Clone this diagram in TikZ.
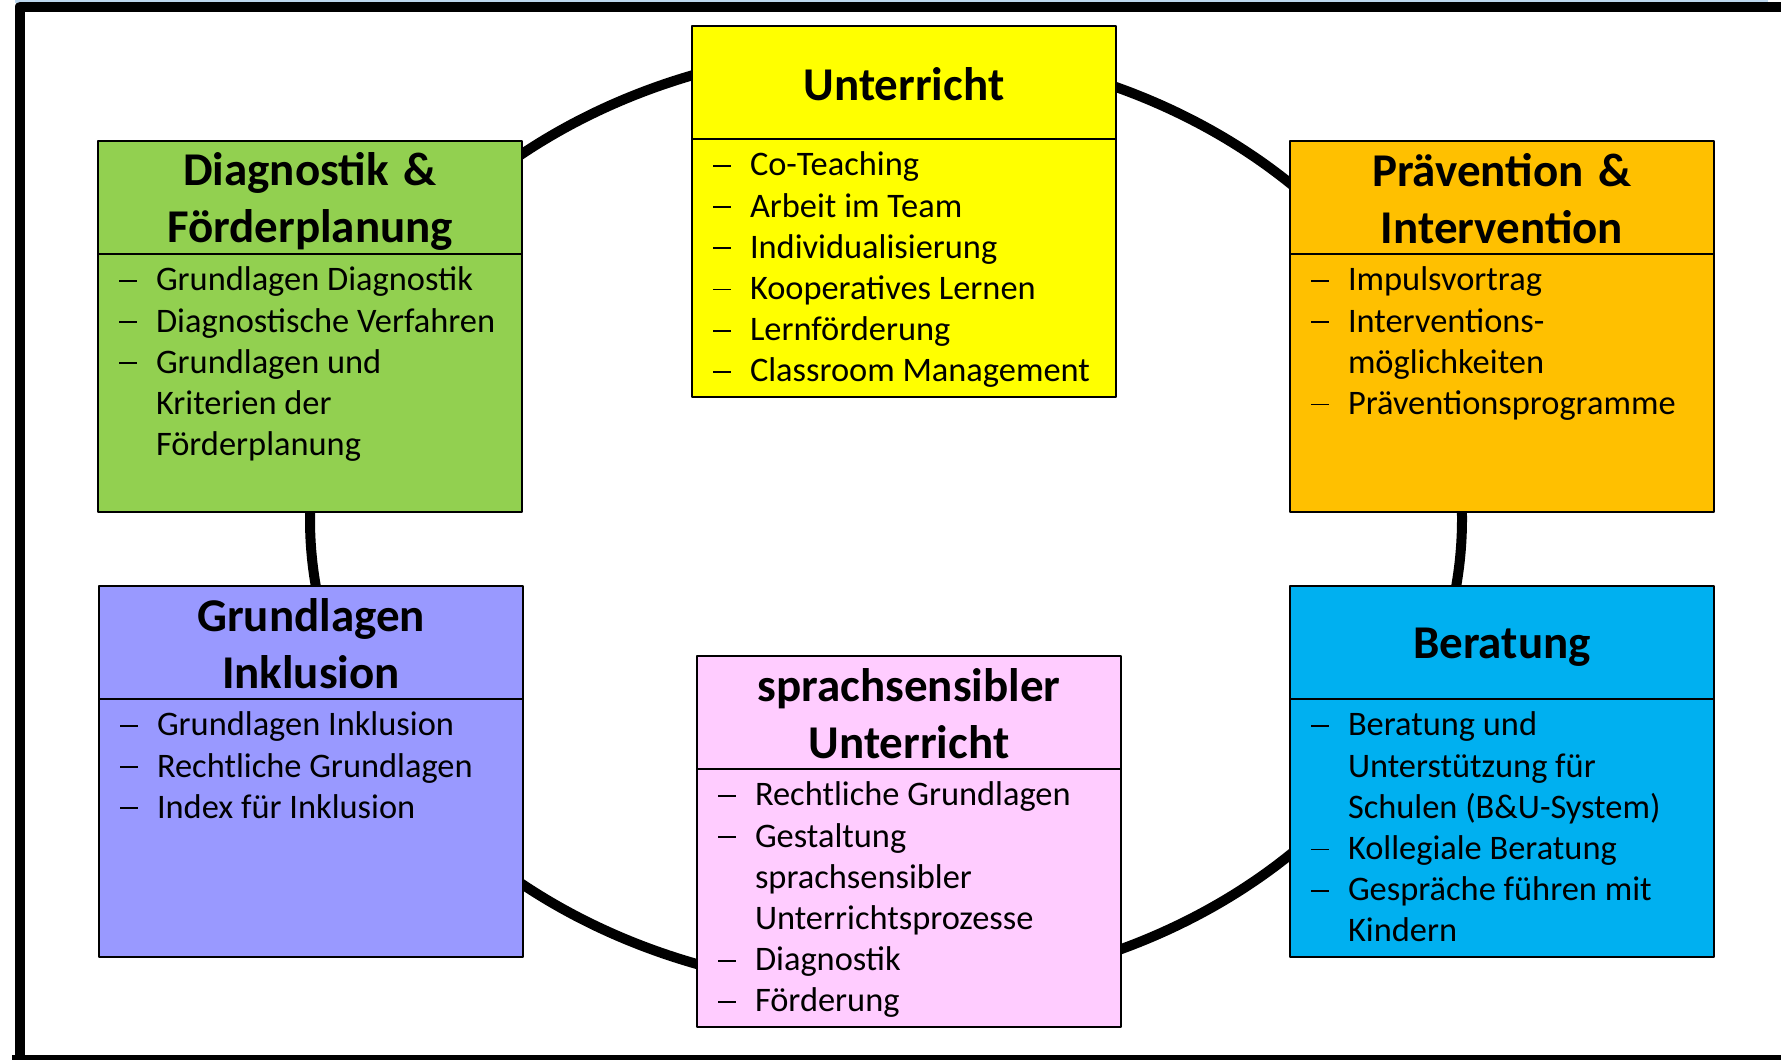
\documentclass[tikz,border=0pt]{standalone}
\usepackage{fontspec}
\setmainfont{Carlito}
\usetikzlibrary{positioning}
\definecolor{gelb}{HTML}{FFFF00}
\definecolor{gruen}{HTML}{92D050}
\definecolor{orange}{HTML}{FFC000}
\definecolor{lila}{HTML}{9999FF}
\definecolor{blau}{HTML}{00B0F0}
\definecolor{rosa}{HTML}{FFCCFF}
\definecolor{rahmenblau}{HTML}{BDD7EE}
\newcommand{\titelfont}{\fontsize{47}{57}\selectfont\bfseries}
\newcommand{\listfont}{\fontsize{34.4}{41.2}\selectfont}
\newcommand{\li}{\makebox[37pt][l]{\rule[9pt]{18pt}{1.8pt}}}
\newcommand{\lc}{\hspace*{37pt}}
\tikzset{
	kopf/.style={draw,line width=2pt,outer sep=0pt,inner sep=0pt,minimum width=424,minimum height=113,
		text width=410,align=center,font=\titelfont,
		execute at begin node={\spaceskip=0pt\xspaceskip=0pt\rule{0pt}{40pt}},execute at end node={\rule[-5pt]{0pt}{5pt}}},
	rumpf/.style={draw,line width=2pt,outer sep=0pt,inner sep=0pt,minimum width=424,minimum height=258},
	liste/.style={inner sep=0pt,outer sep=0pt,text width=400,align=left,font=\listfont,
		execute at begin node={\spaceskip=0pt\xspaceskip=0pt\strut}},
	ring/.style={line width=10pt},
	rahmen/.style={line width=8pt}
}
\begin{document}
\begin{tikzpicture}[x=1pt,y=-1pt,line join=round]
	\useasboundingbox (0,0) rectangle (1781,1060);
	\newcommand{\themenbox}[6]{
		% Kopf, Rumpf und Liste
		\node[kopf,fill=#4,anchor=north west] (#1) at (#2,#3) {#5};
		\node[rumpf,fill=#4,below=0pt of #1] (#1b) {};
		\node[liste,below right=8pt and 21pt of #1b.north west] (#1l) {#6};
	}
	% Rahmen
	\fill[rahmenblau] (15,0) rectangle (1768,3);
	\draw[rahmen,line width=10pt] (20,1060) -- (20,6.5) -- (1781,6.5);
	\draw[rahmen] (12,1059) -- (1781,1059);
	% Ring
	\coordinate (mitte) at (886,519);
	\draw[ring] (mitte) ellipse [x radius=576, y radius=471];
	% Oben
	\themenbox{unt}{692}{26}{gelb}{Unterricht}
		{\li Co-Teaching\\\li Arbeit im Team\\\li Individualisierung\\\li Kooperatives Lernen\\\li Lernförderung\\\li Classroom Management}
	% Links
	\themenbox{dia}{98}{141}{gruen}{Diagnostik \&\\Förderplanung}
		{\li Grundlagen Diagnostik\\\li Diagnostische Verfahren\\\li Grundlagen und\\\lc Kriterien der\\\lc Förderplanung}
	\themenbox{gru}{99}{586}{lila}{Grundlagen\\Inklusion}
		{\li Grundlagen Inklusion\\\li Rechtliche Grundlagen\\\li Index für Inklusion}
	% Rechts
	\themenbox{pra}{1290}{141}{orange}{Prävention \&\\Intervention}
		{\li Impulsvortrag\\\li Interventions-\\\lc möglichkeiten\\\li Präventionsprogramme}
	\themenbox{ber}{1290}{586}{blau}{Beratung}
		{\li Beratung und\\\lc Unterstützung für\\\lc Schulen (B\&U-System)\\\li Kollegiale Beratung\\\li Gespräche führen mit\\\lc Kindern}
	% Unten
	\themenbox{spr}{697}{656}{rosa}{sprachsensibler\\Unterricht}
		{\li Rechtliche Grundlagen\\\li Gestaltung\\\lc sprachsensibler\\\lc Unterrichtsprozesse\\\li Diagnostik\\\li Förderung}
\end{tikzpicture}
\end{document}
